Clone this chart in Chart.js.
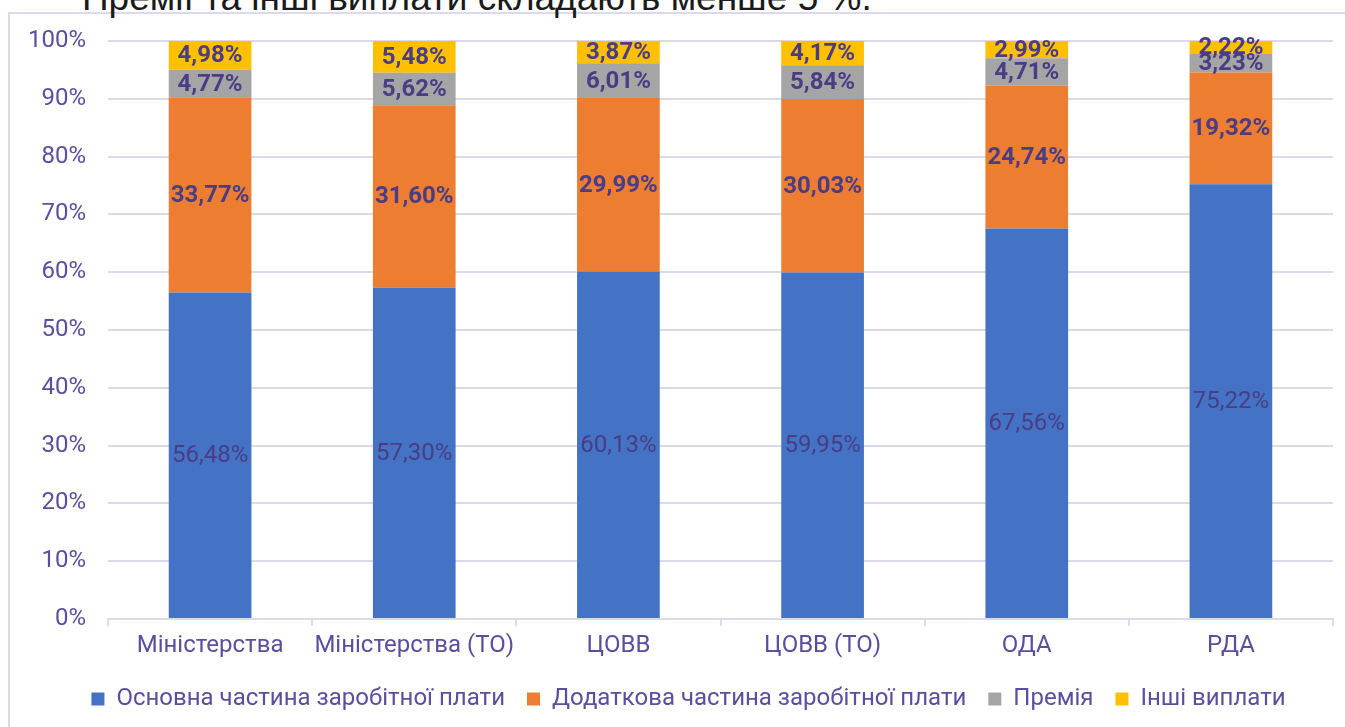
<!DOCTYPE html>
<html>
<head>
<meta charset="utf-8">
<script src="https://cdn.jsdelivr.net/npm/chart.js@4"></script>
<style>
  html, body { margin: 0; padding: 0; background: #fff; overflow: hidden; }
  #wrap { position: relative; width: 1345px; height: 727px; }
  #frame { position: absolute; left: 8px; top: 12px; width: 1400px; height: 800px;
           border: 2px solid #dcd9ec; box-sizing: border-box; }
  #title { position: absolute; left: 82px; top: -21px; font: 37px/37px "Liberation Sans", Arial, sans-serif;
           color: #1a1a1a; white-space: nowrap; }
  #chart { position: absolute; left: 0; top: 0; }
</style>
</head>
<body>
<div id="wrap">
  <div id="frame"></div>
  <div id="title">Премії та інші виплати складають менше 5 %.</div>
  <canvas id="chart" width="1345" height="727"></canvas>
</div>
<script>
const categories = ['Міністерства', 'Міністерства (ТО)', 'ЦОВВ', 'ЦОВВ (ТО)', 'ОДА', 'РДА'];
const basePay = [56.48, 57.30, 60.13, 59.95, 67.56, 75.22];
const extraPay = [33.77, 31.60, 29.99, 30.03, 24.74, 19.32];
const bonus = [4.77, 5.62, 6.01, 5.84, 4.71, 3.23];
const otherPay = [4.98, 5.48, 3.87, 4.17, 2.99, 2.22];
const yTicks = [0, 10, 20, 30, 40, 50, 60, 70, 80, 90, 100];

const tickColor = '#5a4ea0';
const labelColor = '#4a3d85';
const gridColor = '#dcd9ec';

// підписи значень по центру кожного сегмента
const segLabels = {
    id: 'segLabels',
    afterDatasetsDraw(chart) {
        const ctx = chart.ctx;
        ctx.save();
        ctx.textAlign = 'center';
        ctx.textBaseline = 'middle';
        ctx.fillStyle = labelColor;
        chart.data.datasets.forEach((ds, i) => {
            const meta = chart.getDatasetMeta(i);
            ctx.font = (i === 0 ? '' : 'bold ') + '24px Roboto, sans-serif';
            meta.data.forEach((bar, j) => {
                const txt = ds.data[j].toFixed(2).replace('.', ',') + '%';
                ctx.fillText(txt, bar.x, (bar.y + bar.base) / 2 + 1);
            });
        });
        ctx.restore();
    }
};

// легенда трохи правіше центру
const legendShift = {
    id: 'legendShift',
    afterLayout(chart) { chart.legend.left += 44; }
};

new Chart(document.getElementById('chart'), {
    type: 'bar',
    data: {
        labels: categories,
        datasets: [
            { label: 'Основна частина заробітної плати', data: basePay, backgroundColor: '#4472c4' },
            { label: 'Додаткова частина заробітної плати', data: extraPay, backgroundColor: '#ed7d31' },
            { label: 'Премія', data: bonus, backgroundColor: '#a5a5a5' },
            { label: 'Інші виплати', data: otherPay, backgroundColor: '#ffc000' }
        ]
    },
    options: {
        responsive: false,
        animation: false,
        layout: { padding: { top: 41, left: 0, right: 12, bottom: 6 } },
        datasets: { bar: { categoryPercentage: 1, barPercentage: 0.405 } },
        plugins: {
            tooltip: { enabled: false },
            legend: {
                position: 'bottom',
                labels: {
                    boxWidth: 13, boxHeight: 13, padding: 22,
                    color: tickColor,
                    font: { family: 'Roboto, sans-serif', size: 24 }
                }
            }
        },
        scales: {
            x: {
                stacked: true,
                afterFit(s) { s.height = 46; },
                grid: { drawOnChartArea: false, drawTicks: true, tickLength: 7, color: gridColor, lineWidth: 2 },
                border: { color: gridColor, width: 2 },
                ticks: {
                    color: tickColor, padding: 6, maxRotation: 0, autoSkip: false,
                    font: { family: 'Roboto, sans-serif', size: 24 }
                }
            },
            y: {
                stacked: true,
                min: 0, max: 100,
                afterFit(s) { s.width = 108; },
                afterBuildTicks(s) { s.ticks = yTicks.map(v => ({ value: v })); },
                grid: { color: gridColor, lineWidth: 2, drawTicks: false },
                border: { display: false },
                ticks: {
                    color: tickColor, padding: 22,
                    font: { family: 'Roboto, sans-serif', size: 24 },
                    callback: v => v + '%'
                }
            }
        }
    },
    plugins: [segLabels, legendShift]
});
</script>
</body>
</html>
